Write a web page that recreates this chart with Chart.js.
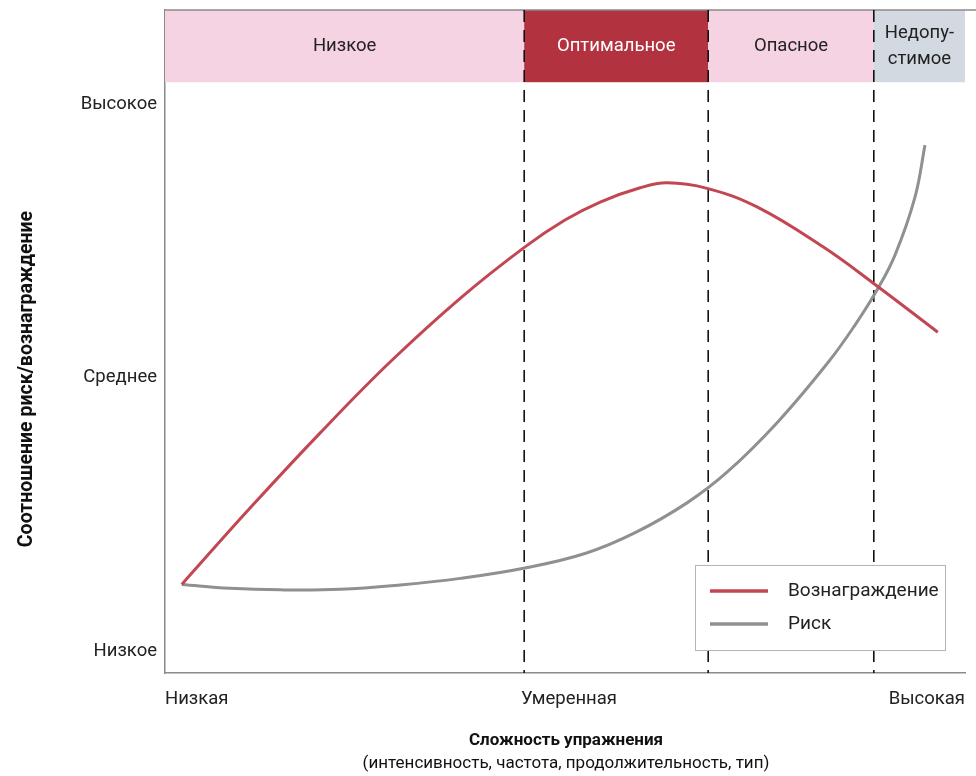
<!DOCTYPE html>
<html>
<head>
<meta charset="utf-8">
<script src="https://cdn.jsdelivr.net/npm/chart.js@4"></script>
<style>
  html, body { margin: 0; padding: 0; background: #fff; }
  #wrap { width: 976px; height: 776px; }
</style>
</head>
<body>
<div id="wrap"><canvas id="riskChart" width="976" height="776"></canvas></div>
<script>
// Data
const rewardX = [2.1, 10.6, 19.4, 28.1, 36.9, 45, 50, 54.4, 59.4, 62.75, 67.75, 74, 82.25, 88.5, 96.6];
const rewardY = [12.2, 26.1, 39.9, 52.8, 64.5, 73.9, 78.8, 82.1, 84.7, 85.6, 84.6, 81.2, 73.9, 67.3, 58.3];
const riskX = [2.1, 8.1, 14.4, 21.9, 29.4, 36.9, 45, 52.6, 58.9, 65.25, 70.25, 76.6, 82.9, 86.25, 89, 91.25, 93.75, 95];
const riskY = [12.2, 11.5, 11.2, 11.3, 12.1, 13.3, 15.2, 17.9, 21.75, 27.1, 32.7, 41.9, 52.8, 59.6, 66, 72.4, 83, 92.5];

const yTickValues = [0, 50, 100];
const yTickLabels = ['Низкое', 'Среднее', 'Высокое'];
const xTickValues = [0, 50.5, 100];
const xTickLabels = ['Низкая', 'Умеренная', 'Высокая'];

// zones along the top band
const zoneEdges = [0, 44.9, 67.9, 88.6, 100];
const zoneNames = ['Низкое', 'Оптимальное', 'Опасное', 'Недопу-\nстимое'];
const zoneFills = ['#f5d3e3', '#b3323f', '#f5d3e3', '#d3d9e1'];
const zoneText = ['#222', '#fff', '#222', '#222'];
const bandBottom = 104;
const bandTop = 117.2;

const seriesNames = ['Вознаграждение', 'Риск'];
const REWARD_COLOR = '#c24752';
const RISK_COLOR = '#8e9190';
const FONT = "Roboto, 'Noto Sans', sans-serif";

const toPoints = (xs, ys) => xs.map((x, i) => ({ x, y: ys[i] }));

const zonesPlugin = {
    id: 'zones',
    beforeDatasetsDraw(chart) {
        const { ctx, chartArea, scales: { x, y } } = chart;
        const top = y.getPixelForValue(bandTop);
        const bottom = y.getPixelForValue(bandBottom);
        ctx.save();
        // band blocks
        zoneNames.forEach((name, i) => {
            const x0 = x.getPixelForValue(zoneEdges[i]);
            const x1 = x.getPixelForValue(zoneEdges[i + 1]);
            ctx.fillStyle = zoneFills[i];
            ctx.fillRect(x0, top, x1 - x0, bottom - top);
            ctx.fillStyle = zoneText[i];
            ctx.font = '18.5px ' + FONT;
            ctx.textAlign = 'center';
            ctx.textBaseline = 'middle';
            const lines = name.split('\n');
            const cx = (x0 + x1) / 2;
            const cy = (top + bottom) / 2;
            lines.forEach((ln, j) => {
                ctx.fillText(ln, cx, cy + (j - (lines.length - 1) / 2) * 26);
            });
        });
        // top border
        ctx.strokeStyle = '#8a8a8a';
        ctx.lineWidth = 1.5;
        ctx.beginPath();
        ctx.moveTo(chartArea.left, top);
        ctx.lineTo(chartArea.right + 11, top);
        ctx.stroke();
        // dashed separators
        ctx.strokeStyle = '#111';
        ctx.lineWidth = 1.6;
        ctx.setLineDash([12, 8]);
        zoneEdges.slice(1, -1).forEach(v => {
            const px = x.getPixelForValue(v);
            ctx.beginPath();
            ctx.moveTo(px, top);
            ctx.lineTo(px, chartArea.bottom);
            ctx.stroke();
        });
        ctx.restore();
    },
    afterDatasetsDraw(chart) {
        const { ctx } = chart;
        // legend box
        const bx = 695, by = 565, bw = 250, bh = 85;
        ctx.save();
        ctx.fillStyle = '#fff';
        ctx.fillRect(bx, by, bw, bh);
        ctx.strokeStyle = '#b5b5b5';
        ctx.lineWidth = 1;
        ctx.strokeRect(bx + 0.5, by + 0.5, bw, bh);
        chart.data.datasets.forEach((ds, i) => {
            const ly = by + 26 + i * 33;
            ctx.strokeStyle = ds.borderColor;
            ctx.lineWidth = 3.5;
            ctx.beginPath();
            ctx.moveTo(bx + 15, ly);
            ctx.lineTo(bx + 73, ly);
            ctx.stroke();
            ctx.fillStyle = '#222';
            ctx.font = '19px ' + FONT;
            ctx.textAlign = 'left';
            ctx.textBaseline = 'middle';
            ctx.fillText(ds.label, bx + 93, ly);
        });
        ctx.restore();
    },
    afterDraw(chart) {
        const { ctx } = chart;
        ctx.save();
        ctx.fillStyle = '#111';
        ctx.textAlign = 'center';
        ctx.textBaseline = 'middle';
        ctx.font = 'bold 17px ' + FONT;
        ctx.fillText('Сложность упражнения', 566, 741);
        ctx.font = '17px ' + FONT;
        ctx.fillText('(интенсивность, частота, продолжительность, тип)', 566, 764);
        ctx.translate(27, 379);
        ctx.rotate(-Math.PI / 2);
        ctx.font = 'bold 19.5px ' + FONT;
        ctx.fillText('Соотношение риск/вознаграждение', 0, 0);
        ctx.restore();
    }
};

new Chart(document.getElementById('riskChart'), {
    type: 'line',
    data: {
        datasets: [{
            label: seriesNames[0],
            data: toPoints(rewardX, rewardY),
            borderColor: REWARD_COLOR,
            borderWidth: 3,
            pointRadius: 0,
            tension: 0.4
        }, {
            label: seriesNames[1],
            data: toPoints(riskX, riskY),
            borderColor: RISK_COLOR,
            borderWidth: 3,
            pointRadius: 0,
            tension: 0.4
        }]
    },
    options: {
        responsive: false,
        animation: false,
        layout: { padding: { top: 10, right: 11, left: 0, bottom: 0 } },
        plugins: {
            legend: { display: false },
            tooltip: { enabled: false }
        },
        scales: {
            x: {
                type: 'linear',
                min: 0,
                max: 100,
                grid: { display: false, drawTicks: false },
                border: { display: true, color: '#8a8a8a', width: 1.5 },
                afterBuildTicks: s => { s.ticks = xTickValues.map(v => ({ value: v })); },
                afterFit: s => { s.height = 103; s.paddingLeft = 0; s.paddingRight = 0; },
                ticks: {
                    align: 'inner',
                    padding: 15,
                    maxRotation: 0,
                    color: '#222',
                    font: { family: FONT, size: 18.5 },
                    callback: (v) => xTickLabels[xTickValues.indexOf(v)]
                }
            },
            y: {
                type: 'linear',
                min: -4,
                max: bandTop,
                grid: { display: false, drawTicks: false },
                border: { display: true, color: '#8a8a8a', width: 1.5 },
                afterBuildTicks: s => { s.ticks = yTickValues.map(v => ({ value: v })); },
                afterFit: s => { s.width = 165; s.paddingTop = 0; s.paddingBottom = 0; },
                ticks: {
                    padding: 8,
                    color: '#222',
                    font: { family: FONT, size: 18.5 },
                    callback: (v) => yTickLabels[yTickValues.indexOf(v)]
                }
            }
        }
    },
    plugins: [zonesPlugin]
});
</script>
</body>
</html>
